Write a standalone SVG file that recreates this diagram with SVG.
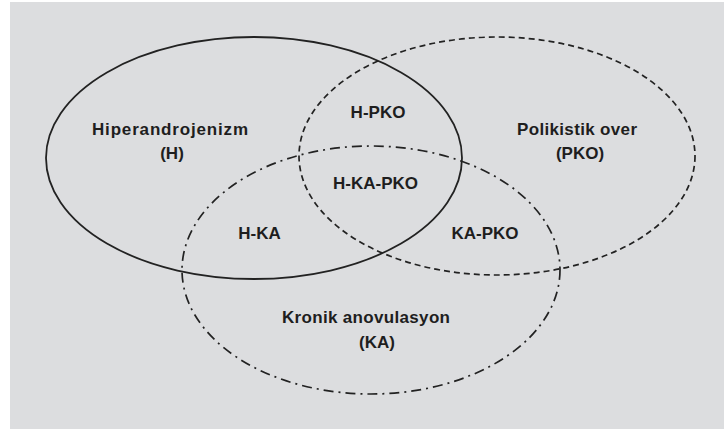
<svg xmlns="http://www.w3.org/2000/svg" width="724" height="432" viewBox="0 0 724 432">
<style>
.bg{fill:#dcdddf}
.set{fill:none;stroke:#222}
.h{stroke-width:1.8}
.pko{stroke-width:1.7;stroke-dasharray:6 4}
.ka{stroke-width:1.7;stroke-dasharray:10 5 2 5}
text{font-family:"Liberation Sans",Arial,sans-serif;font-weight:bold;font-size:17px;fill:#1e1e1e;text-anchor:middle}
</style>
<rect width="724" height="432" fill="#ffffff"/>
<rect class="bg" x="10" y="2" width="714" height="427"/>
<g id="connectors"/>
<g id="set-H">
<ellipse class="set h" cx="254" cy="158" rx="208" ry="121"/>
<text x="170" y="135" textLength="156" lengthAdjust="spacing">Hiperandrojenizm</text>
<text x="172" y="159">(H)</text>
</g>
<g id="set-PKO">
<ellipse class="set pko" cx="497" cy="156" rx="198" ry="119"/>
<text x="577" y="135" textLength="120" lengthAdjust="spacing">Polikistik over</text>
<text x="580" y="159">(PKO)</text>
</g>
<g id="set-KA">
<ellipse class="set ka" cx="371" cy="270" rx="189" ry="124"/>
<text x="366" y="323" textLength="168" lengthAdjust="spacing">Kronik anovulasyon</text>
<text x="377" y="348">(KA)</text>
</g>
<g id="region-H-PKO"><text x="378" y="118">H-PKO</text></g>
<g id="region-H-KA-PKO"><text x="375.5" y="189">H-KA-PKO</text></g>
<g id="region-H-KA"><text x="259.5" y="239">H-KA</text></g>
<g id="region-KA-PKO"><text x="485" y="239">KA-PKO</text></g>
</svg>
